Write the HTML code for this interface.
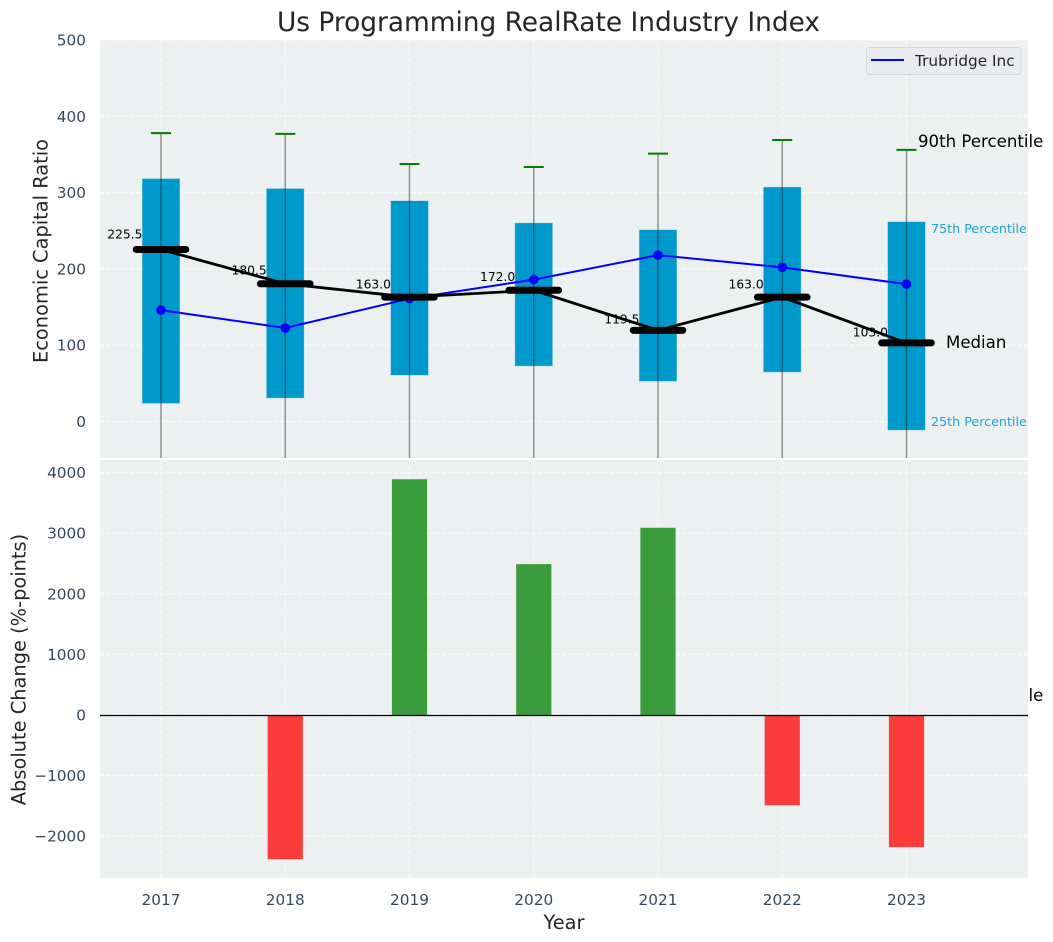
<!DOCTYPE html>
<html>
<head>
<meta charset="utf-8">
<title>Us Programming RealRate Industry Index</title>
<style>
html,body{margin:0;padding:0;background:#fff;width:1053px;height:942px;overflow:hidden}
svg{display:block;font-family:"DejaVu Sans","Liberation Sans",sans-serif}
</style>
</head>
<body>
<svg id="chart" xmlns="http://www.w3.org/2000/svg" width="1053" height="942" viewBox="0 0 1053 942"></svg>
<script>
const years = [2017, 2018, 2019, 2020, 2021, 2022, 2023];
const p90 = [378, 377, 337.5, 333.5, 351, 369, 356];
const p75 = [318, 305, 289, 260, 251, 307, 261.5];
const median = [225.5, 180.5, 163, 172, 119.5, 163, 103];
const p25 = [24, 31, 61, 73, 53, 65, -11];
const p10 = [-300, -290, -240, -230, -250, -260, -371];
const company = [146, 122.5, 161, 186, 218, 202, 180];
const change = [null, -2380, 3890, 2490, 3090, -1490, -2180];
const topTicks = [0, 100, 200, 300, 400, 500];
const bottomTicks = [-2000, -1000, 0, 1000, 2000, 3000, 4000];

const svg = document.getElementById('chart');
const NS = 'http://www.w3.org/2000/svg';
function mk(tag, attrs, parent, text) {
  const el = document.createElementNS(NS, tag);
  for (const k in attrs) el.setAttribute(k, attrs[k]);
  if (text !== undefined) el.textContent = text;
  (parent || svg).appendChild(el);
  return el;
}
const X = v => 161 + (v - 2017) * 124.25;
const YT = v => 421.5 - v * 0.763;
const YB = v => 715 - v * 0.0606;
const L = 100, R = 1028, T1 = 40, B1 = 458, T2 = 460, B2 = 878;
const minus = v => String(v).replace('-', '\u2212');
const tickColor = '#34495e';

const defs = mk('defs', {});
const clip = mk('clipPath', {id: 'clip-top'}, defs);
mk('rect', {x: L, y: T1, width: R - L, height: B1 - T1}, clip);

let el;

// Upper panel
const bgTop = mk('rect', {x: L, y: T1, width: R - L, height: B1 - T1, fill: '#ecf0f1'});



// 10th percentile label sits beneath the lower panel, which hides all but its tail
el = mk('text', {x: 918, y: YT(p10[6]) - 3.5, 'font-size': 16.6, fill: '#000'}, svg, '10th Percentile');



const plotTop = mk('g', {'clip-path': 'url(#clip-top)'});



topTicks.forEach(t => {
  const g = mk('line', {x1: L, x2: R, y1: YT(t), y2: YT(t), stroke: '#fff', 'stroke-width': 1, 'stroke-dasharray': '4 2', 'stroke-opacity': .8}, plotTop);
  
  
  const lb = mk('text', {x: 86, y: YT(t) + 5.5, 'text-anchor': 'end', 'font-size': 15.3, fill: tickColor}, svg, String(t));
  
  
});
years.forEach(y => {
  const g = mk('line', {x1: X(y), x2: X(y), y1: T1, y2: B1, stroke: '#fff', 'stroke-width': 1, 'stroke-dasharray': '4 2', 'stroke-opacity': .8}, plotTop);
  
  
});

// Interquartile boxes
years.forEach((y, i) => {
  const b = mk('rect', {x: X(y) - 18.6, y: YT(p75[i]), width: 37.2, height: YT(p25[i]) - YT(p75[i]), fill: '#0099cc', stroke: '#0099cc', 'stroke-opacity': .3, 'stroke-width': 1}, plotTop);
  
  
});
// Whiskers and caps
years.forEach((y, i) => {
  const w = mk('line', {x1: X(y), x2: X(y), y1: YT(p90[i]), y2: YT(p10[i]), stroke: '#222', 'stroke-opacity': .5, 'stroke-width': 1.4}, plotTop);
  
  
  const c = mk('line', {x1: X(y) - 10, x2: X(y) + 10, y1: YT(p90[i]), y2: YT(p90[i]), stroke: '#008000', 'stroke-width': 2}, plotTop);
  
  
});
// Median value labels, lifted 5% above their median value
years.forEach((y, i) => {
  const t = mk('text', {x: X(y) - 18.5, y: YT(median[i] * 1.05) - 2.5, 'text-anchor': 'end', 'font-size': 12.3, fill: '#000'}, svg, median[i].toFixed(1));
  
  
});
// Company series
const bluePts = years.map((y, i) => X(y) + ',' + YT(company[i])).join(' ');
el = mk('polyline', {points: bluePts, fill: 'none', stroke: '#0000ff', 'stroke-width': 2}, plotTop);


years.forEach((y, i) => {
  const p = mk('circle', {cx: X(y), cy: YT(company[i]), r: 4.8, fill: '#0000ff'}, plotTop);
  
  
});
// Median line and bars
const medPts = years.map((y, i) => X(y) + ',' + YT(median[i])).join(' ');
el = mk('polyline', {points: medPts, fill: 'none', stroke: '#000', 'stroke-width': 2.8}, plotTop);


years.forEach((y, i) => {
  const m = mk('line', {x1: X(y) - 24.8, x2: X(y) + 24.8, y1: YT(median[i]), y2: YT(median[i]), stroke: '#000', 'stroke-width': 7, 'stroke-linecap': 'round'}, plotTop);
  
  
});

// Percentile annotations
el = mk('text', {x: 918, y: 147, 'font-size': 16.6, fill: '#000'}, svg, '90th Percentile');


el = mk('text', {x: 931, y: 233, 'font-size': 12.7, fill: '#1aa5d3'}, svg, '75th Percentile');


el = mk('text', {x: 946, y: 348, 'font-size': 16.6, fill: '#000'}, svg, 'Median');


el = mk('text', {x: 931, y: 426, 'font-size': 12.7, fill: '#1aa5d3'}, svg, '25th Percentile');



// Legend
const legend = mk('g', {});


el = mk('rect', {x: 866.5, y: 47.5, width: 154.5, height: 27, rx: 3, fill: '#e9ebf1', stroke: '#d4d6da', 'stroke-width': 1}, legend);


el = mk('line', {x1: 871, x2: 904, y1: 60, y2: 60, stroke: '#0000ff', 'stroke-width': 2}, legend);


el = mk('text', {x: 915, y: 66, 'font-size': 15.3, fill: '#262626'}, legend, 'Trubridge Inc');



// Lower panel
const bgBottom = mk('rect', {x: L, y: T2, width: R - L, height: B2 - T2, fill: '#ecf0f1'});


const plotBottom = mk('g', {});



bottomTicks.forEach(t => {
  const g = mk('line', {x1: L, x2: R, y1: YB(t), y2: YB(t), stroke: '#fff', 'stroke-width': 1, 'stroke-dasharray': '4 2', 'stroke-opacity': .8}, plotBottom);
  
  
  const lb = mk('text', {x: 86, y: YB(t) + 5.5, 'text-anchor': 'end', 'font-size': 15.3, fill: tickColor}, svg, minus(t));
  
  
});
years.forEach(y => {
  const g = mk('line', {x1: X(y), x2: X(y), y1: T2, y2: B2, stroke: '#fff', 'stroke-width': 1, 'stroke-dasharray': '4 2', 'stroke-opacity': .8}, plotBottom);
  
  
  const lb = mk('text', {x: X(y), y: 905, 'text-anchor': 'middle', 'font-size': 15.3, fill: tickColor}, svg, String(y));
  
  
});
years.forEach((y, i) => {
  if (change[i] === null) return;
  const top = Math.min(YB(change[i]), YB(0));
  const h = Math.abs(YB(change[i]) - YB(0));
  const b = mk('rect', {x: X(y) - 17.6, y: top, width: 35.2, height: h, fill: change[i] >= 0 ? '#008000' : '#ff0000', 'fill-opacity': .75}, plotBottom);
  
  
});
el = mk('line', {x1: L, x2: R, y1: YB(0) + 0.5, y2: YB(0) + 0.5, stroke: '#000', 'stroke-width': 1.2}, plotBottom);



// Titles
el = mk('text', {x: 548.5, y: 31, 'text-anchor': 'middle', 'font-size': 26.4, fill: '#262626'}, svg, 'Us Programming RealRate Industry Index');


el = mk('text', {x: 47.5, y: 251, 'text-anchor': 'middle', 'font-size': 19.4, fill: '#262626', transform: 'rotate(-90 47.5 251)'}, svg, 'Economic Capital Ratio');


el = mk('text', {x: 25.5, y: 669.5, 'text-anchor': 'middle', 'font-size': 19.4, fill: '#262626', transform: 'rotate(-90 25.5 669.5)'}, svg, 'Absolute Change (%-points)');


el = mk('text', {x: 564, y: 929, 'text-anchor': 'middle', 'font-size': 19.4, fill: '#262626'}, svg, 'Year');


</script>
</body>
</html>
